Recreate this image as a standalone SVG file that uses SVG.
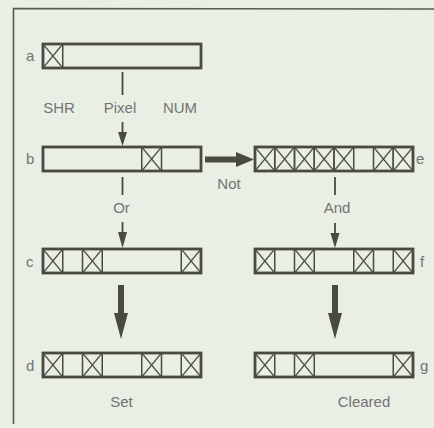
<svg xmlns="http://www.w3.org/2000/svg" xmlns:xlink="http://www.w3.org/1999/xlink" width="434" height="428" viewBox="0 0 434 428">
<style>
.bg{fill:#e9efe4}
.frame{stroke:#5a5a52;stroke-width:1.6;fill:none}
.bar{fill:none;stroke:#4a4a42;stroke-width:2.8}
.cell{fill:none;stroke:#4a4a42;stroke-width:1.5}
.xl{stroke:#4f4f47;stroke-width:1.2}
.lbl{font-family:"Liberation Sans",Arial,sans-serif;font-size:15px;fill:#737373}
.mid{text-anchor:middle}
.ln{stroke:#4a4a42;stroke-width:1.8;fill:none}
.thick{stroke:#4a4a42;stroke-width:6;fill:none}
.head{fill:#4a4a42}
</style>
<defs>
<g id="xc">
<rect class="cell" x="0" y="0" width="19.75" height="24"/>
<line class="xl" x1="0" y1="0" x2="19.75" y2="24"/>
<line class="xl" x1="19.75" y1="0" x2="0" y2="24"/>
</g>
</defs>
<rect class="bg" x="0" y="0" width="434" height="428"/>
<path class="frame" d="M434 9 L13.5 8.5 L13.5 424"/>

<g id="connectors">
<line class="ln" x1="122.5" y1="72" x2="122.5" y2="95"/>
<line class="ln" x1="122.5" y1="122" x2="122.5" y2="134"/>
<polygon class="head" points="118,132 127,132 122.5,146"/>
<text class="lbl mid" x="59" y="113">SHR</text>
<text class="lbl mid" x="120" y="113">Pixel</text>
<text class="lbl mid" x="180" y="113">NUM</text>

<line class="ln" x1="122.5" y1="177" x2="122.5" y2="195"/>
<text class="lbl mid" x="121.5" y="213">Or</text>
<line class="ln" x1="122.5" y1="222" x2="122.5" y2="234"/>
<polygon class="head" points="118,232 127,232 122.5,248"/>

<line class="thick" x1="121" y1="285" x2="121" y2="315"/>
<polygon class="head" points="114,313 128,313 121,339"/>

<line class="thick" x1="205" y1="159.5" x2="238" y2="159.5"/>
<polygon class="head" points="236,152 236,167 254,159.5"/>
<text class="lbl mid" x="229" y="189">Not</text>

<line class="ln" x1="335" y1="177" x2="335" y2="195"/>
<text class="lbl mid" x="337" y="213">And</text>
<line class="ln" x1="335" y1="223" x2="335" y2="235"/>
<polygon class="head" points="330.5,233 339.5,233 335,248"/>

<line class="thick" x1="335" y1="285" x2="335" y2="315"/>
<polygon class="head" points="328,313 342,313 335,339"/>
</g>

<g id="node-a">
<text class="lbl" x="26" y="61">a</text>
<use xlink:href="#xc" x="43" y="44"/>
<rect class="bar" x="43" y="44" width="158" height="24"/>
</g>
<g id="node-b">
<text class="lbl" x="26" y="164">b</text>
<use xlink:href="#xc" x="141.75" y="147"/>
<rect class="bar" x="43" y="147" width="158" height="24"/>
</g>
<g id="node-c">
<text class="lbl" x="26" y="267">c</text>
<use xlink:href="#xc" x="43" y="249"/>
<use xlink:href="#xc" x="82.5" y="249"/>
<use xlink:href="#xc" x="181.25" y="249"/>
<rect class="bar" x="43" y="249" width="158" height="24"/>
</g>
<g id="node-d">
<text class="lbl" x="26" y="371">d</text>
<use xlink:href="#xc" x="43" y="353"/>
<use xlink:href="#xc" x="82.5" y="353"/>
<use xlink:href="#xc" x="141.75" y="353"/>
<use xlink:href="#xc" x="181.25" y="353"/>
<rect class="bar" x="43" y="353" width="158" height="24"/>
<text class="lbl mid" x="121.5" y="407">Set</text>
</g>
<g id="node-e">
<use xlink:href="#xc" x="255" y="147"/>
<use xlink:href="#xc" x="274.75" y="147"/>
<use xlink:href="#xc" x="294.5" y="147"/>
<use xlink:href="#xc" x="314.25" y="147"/>
<use xlink:href="#xc" x="334" y="147"/>
<use xlink:href="#xc" x="373.5" y="147"/>
<use xlink:href="#xc" x="393.25" y="147"/>
<rect class="bar" x="255" y="147" width="158" height="24"/>
<text class="lbl" x="416" y="164">e</text>
</g>
<g id="node-f">
<use xlink:href="#xc" x="255" y="249"/>
<use xlink:href="#xc" x="294.5" y="249"/>
<use xlink:href="#xc" x="353.75" y="249"/>
<use xlink:href="#xc" x="393.25" y="249"/>
<rect class="bar" x="255" y="249" width="158" height="24"/>
<text class="lbl" x="420" y="267">f</text>
</g>
<g id="node-g">
<use xlink:href="#xc" x="255" y="353"/>
<use xlink:href="#xc" x="294.5" y="353"/>
<use xlink:href="#xc" x="393.25" y="353"/>
<rect class="bar" x="255" y="353" width="158" height="24"/>
<text class="lbl" x="420" y="371">g</text>
<text class="lbl mid" x="364" y="407">Cleared</text>
</g>
</svg>
